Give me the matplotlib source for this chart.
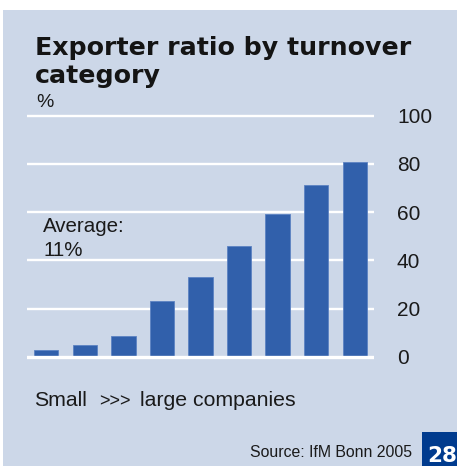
import matplotlib
matplotlib.use("Agg")
import matplotlib.pyplot as plt
from matplotlib.patches import Rectangle

# Exporter ratio (%) per turnover category, small to large companies
categories = ["1", "2", "3", "4", "5", "6", "7", "8", "9"]
exporter_ratio = [2.6, 4.7, 8.4, 23.1, 32.9, 46.0, 59.3, 71.4, 80.9]
y_ticks = [0, 20, 40, 60, 80, 100]
y_tick_labels = ["0", "20", "40", "60", "80", "100"]

W, H = 457, 466
DPI = 100
BG = "#CCD7E8"
BAR = "#3160AB"
BOX = "#003B8E"
TXT = "#1a1a1a"
FONT = "Liberation Sans"

fig = plt.figure(figsize=(W / DPI, H / DPI), dpi=DPI)
fig.patch.set_facecolor("white")


def fx(x):
    return x / W


def fy(y):
    return 1 - y / H


# panel background
fig.patches.append(Rectangle((fx(3), 0), fx(W - 3), fy(10), transform=fig.transFigure,
                             facecolor=BG, edgecolor="none", zorder=-2))
# page-number box
fig.patches.append(Rectangle((fx(422), 0), fx(W - 422), fy(432), transform=fig.transFigure,
                             facecolor=BOX, edgecolor="none", zorder=-1))

# axes placement: x from 27 to 374 px, y value 0 at 356.7 px, 100 at 115.7 px
ppu = (356.7 - 115.7) / 100
ylo, yhi = -3, 103
bottom_px = 356.7 - ylo * ppu
top_px = 115.7 - (yhi - 100) * ppu
ax = fig.add_axes([fx(27), fy(bottom_px), fx(374 - 27), (bottom_px - top_px) / H])
ax.set_zorder(2)
ax.set_facecolor("none")
ax.set_xlim(-0.5, len(categories) - 0.5)
ax.set_ylim(ylo, yhi)

x = range(len(categories))
ax.bar(x, exporter_ratio, width=0.63, color=BAR, edgecolor="#5C82C2",
       linewidth=0.6, zorder=2)

for t in y_ticks:
    ax.axhline(t, color="white", linewidth=2.4 if t == 0 else 1.7,
               zorder=3 if t == 0 else 1)

for s in ax.spines.values():
    s.set_visible(False)
ax.set_xticks([])
ax.yaxis.tick_right()
ax.set_yticks(y_ticks)
ax.set_yticklabels(y_tick_labels, fontsize=15, family=FONT, color=TXT)
ax.tick_params(axis="y", length=0, pad=16.5)

# title
title_kw = dict(fontsize=18.2, fontweight="heavy", family="DejaVu Sans",
                color="#141414", va="baseline")
fig.text(fx(35), fy(55), "Exporter ratio by turnover", **title_kw)
fig.text(fx(35), fy(83), "category", **title_kw)

fig.text(fx(36), fy(106.7), "%", fontsize=14, family=FONT, color=TXT, va="baseline")

fig.text(fx(43.3), fy(231.7), "Average:", fontsize=14.8, family=FONT, color=TXT, va="baseline")
fig.text(fx(43.3), fy(256), "11%", fontsize=14.8, family=FONT, color=TXT, va="baseline")

fig.text(fx(34), fy(406), "Small", fontsize=15.3, family=FONT, color=TXT, va="baseline")
fig.text(fx(99), fy(406), ">>>", fontsize=13, family=FONT, color=TXT, va="baseline")
fig.text(fx(140), fy(406), "large companies", fontsize=15.3, family=FONT, color=TXT, va="baseline")

fig.text(fx(412), fy(456.7), "Source: IfM Bonn 2005", fontsize=11.4, family=FONT,
         color=TXT, va="baseline", ha="right")
fig.text(fx(427), fy(461.7), "28", fontsize=15.5, fontweight="heavy", family="DejaVu Sans",
         color="white", va="baseline", zorder=5)

fig.savefig("out.png", dpi=DPI, facecolor=fig.get_facecolor())
